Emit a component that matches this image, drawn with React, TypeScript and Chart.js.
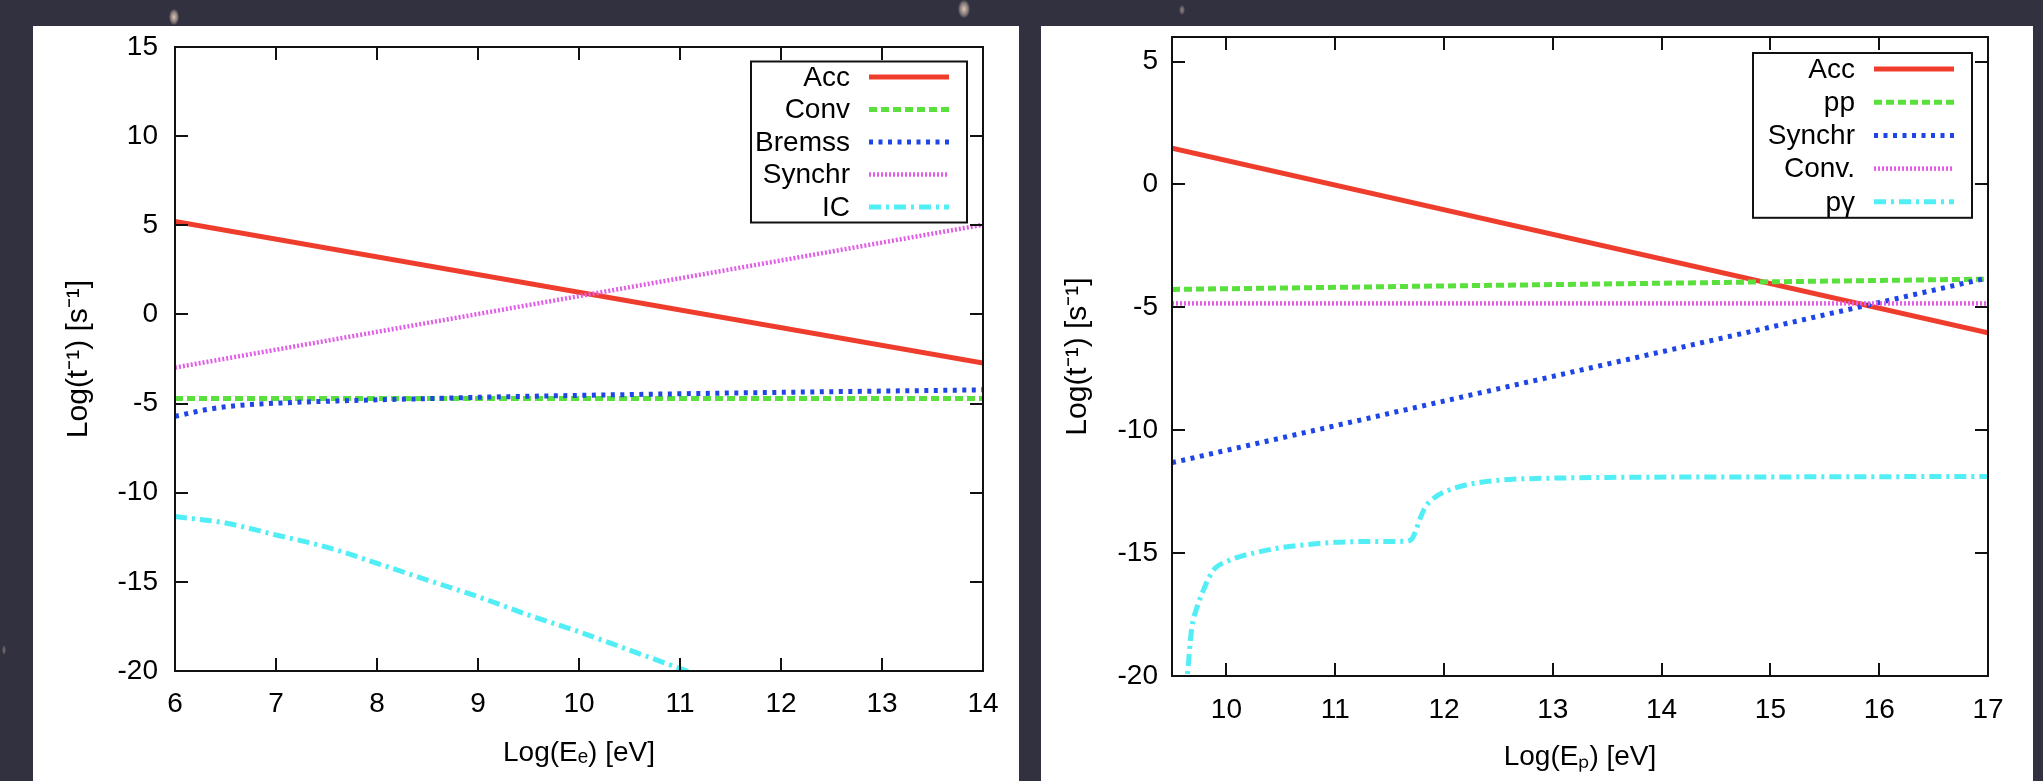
import React, { useEffect, useRef } from "react";
import { Chart, registerables } from "chart.js";

Chart.register(...registerables);

// ---------------- data : left panel (electrons) ----------------
const leftLabels = ["Acc", "Conv", "Bremss", "Synchr", "IC"];
const leftXTicks = [6, 7, 8, 9, 10, 11, 12, 13, 14];
const leftYTicks = [-20, -15, -10, -5, 0, 5, 10, 15];

const eAccX = [6, 14];
const eAccY = [5.22, -2.73];
const eConvX = [6, 14];
const eConvY = [-4.71, -4.71];
const eBremssX = [6, 6.3, 6.6, 7, 7.5, 8, 8.5, 9, 9.5, 10, 11, 12, 13, 14];
const eBremssY = [-5.72, -5.35, -5.12, -4.98, -4.87, -4.79, -4.72, -4.65, -4.59, -4.54, -4.45, -4.37, -4.3, -4.23];
const eSynchrX = [6, 14];
const eSynchrY = [-2.98, 5.03];
const eIcX = [6, 6.5, 7, 7.5, 8, 8.5, 9, 9.5, 10, 10.5, 11, 11.3];
const eIcY = [-11.34, -11.7, -12.37, -13.05, -13.96, -14.9, -15.83, -16.86, -17.8, -18.83, -19.86, -20.5];

// ---------------- data : right panel (protons) ----------------
const rightLabels = ["Acc", "pp", "Synchr", "Conv.", "pγ"];
const rightXTicks = [10, 11, 12, 13, 14, 15, 16, 17];
const rightYTicks = [-20, -15, -10, -5, 0, 5];

const pAccX = [9.5, 17];
const pAccY = [1.48, -6.04];
const pPpX = [9.5, 17];
const pPpY = [-4.27, -3.85];
const pSynchrX = [9.5, 17];
const pSynchrY = [-11.32, -3.8];
const pConvX = [9.5, 17];
const pConvY = [-4.84, -4.84];
const pPgX = [9.62, 9.64, 9.68, 9.73, 9.78, 9.84, 9.9, 10.0, 10.11, 10.3, 10.48, 10.75, 11.0, 11.3, 11.64, 11.7, 11.74, 11.78, 11.82, 11.87, 11.92, 12.0, 12.1, 12.25, 12.41, 12.6, 12.79, 13.5, 15, 17];
const pPgY = [-20.6, -20, -18.1, -17.2, -16.6, -16.0, -15.6, -15.35, -15.16, -14.95, -14.79, -14.65, -14.56, -14.53, -14.52, -14.45, -14.1, -13.6, -13.2, -12.9, -12.72, -12.52, -12.35, -12.18, -12.08, -12.0, -11.97, -11.92, -11.9, -11.88];

// ---------------- styles ----------------
const FONT = "'Liberation Sans', Arial, Helvetica, sans-serif";
const RED = "#ef3d2d";
const GREEN = "#5ae03c";
const BLUE = "#1f45e6";
const MAGENTA = "#e25ee8";
const CYAN = "#52eef6";

const styleAcc = { borderColor: RED, borderWidth: 5, borderDash: [] as number[] };
const styleDash = { borderColor: GREEN, borderWidth: 5, borderDash: [8, 4] };
const styleDot = { borderColor: BLUE, borderWidth: 5, borderDash: [4, 5.5] };
const styleFine = { borderColor: MAGENTA, borderWidth: 4.5, borderDash: [2, 2] };
const styleDashDot = { borderColor: CYAN, borderWidth: 5, borderDash: [12, 5, 3, 5] };

function pts(xs: number[], ys: number[]) {
  return xs.map((x, i) => ({ x, y: ys[i] }));
}

function ds(label: string, xs: number[], ys: number[], style: any, idx: number, curve = false) {
  return {
    label,
    data: pts(xs, ys),
    showLine: true,
    pointRadius: 0,
    pointHoverRadius: 0,
    fill: false,
    borderCapStyle: "butt" as const,
    cubicInterpolationMode: curve ? ("monotone" as const) : ("default" as const),
    order: -idx,
    ...style,
  };
}

const gnuFrame = {
  id: "gnuFrame",
  afterDatasetsDraw(chart: any) {
    const { ctx, chartArea: a, scales } = chart;
    const L = 13;
    ctx.save();
    ctx.strokeStyle = "#111";
    ctx.lineWidth = 2;
    ctx.beginPath();
    for (const t of scales.x.ticks) {
      const px = Math.round(scales.x.getPixelForValue(t.value));
      ctx.moveTo(px, a.bottom);
      ctx.lineTo(px, a.bottom - L);
      ctx.moveTo(px, a.top);
      ctx.lineTo(px, a.top + L);
    }
    for (const t of scales.y.ticks) {
      const py = Math.round(scales.y.getPixelForValue(t.value));
      ctx.moveTo(a.left, py);
      ctx.lineTo(a.left + L, py);
      ctx.moveTo(a.right, py);
      ctx.lineTo(a.right - L, py);
    }
    ctx.stroke();
    ctx.strokeRect(a.left, a.top, a.right - a.left, a.bottom - a.top);
    ctx.restore();
  },
};

const gnuLegend = {
  id: "gnuLegend",
  afterDraw(chart: any, _args: any, opts: any) {
    const { ctx, chartArea: a } = chart;
    const sets = chart.data.datasets;
    const boxRight = a.right - opts.right;
    const boxTop = a.top + opts.top;
    const boxLeft = boxRight - opts.width;
    const boxBottom = boxTop + 2 * opts.pad + (sets.length - 1) * opts.row;
    ctx.save();
    ctx.strokeStyle = "#111";
    ctx.lineWidth = 2;
    ctx.strokeRect(boxLeft, boxTop, boxRight - boxLeft, boxBottom - boxTop);
    ctx.font = `${opts.fontSize}px ${FONT}`;
    ctx.textAlign = "right";
    ctx.textBaseline = "middle";
    sets.forEach((d: any, i: number) => {
      const y = boxTop + opts.pad + i * opts.row;
      ctx.fillStyle = "#000";
      ctx.fillText(d.label, boxRight - 117, y + 1);
      ctx.strokeStyle = d.borderColor;
      ctx.lineWidth = d.borderWidth;
      ctx.setLineDash(d.borderDash || []);
      ctx.beginPath();
      ctx.moveTo(boxRight - 98, y);
      ctx.lineTo(boxRight - 18, y);
      ctx.stroke();
      ctx.setLineDash([]);
    });
    ctx.restore();
  },
};

function makeOptions(cfg: any) {
  const font = { family: FONT, size: 28 };
  return {
    animation: false as const,
    responsive: false,
    events: [] as any[],
    layout: { padding: { left: 0, top: cfg.padTop, right: cfg.padRight, bottom: 0 } },
    plugins: {
      legend: { display: false },
      tooltip: { enabled: false },
      gnuLegend: cfg.legend,
    },
    scales: {
      x: {
        type: "linear" as const,
        min: cfg.xMin,
        max: cfg.xMax,
        afterBuildTicks: (s: any) => {
          s.ticks = cfg.xTicks.map((v: number) => ({ value: v }));
        },
        afterFit: (s: any) => {
          s.height = cfg.xAxisH;
          s.paddingLeft = 0;
          s.paddingRight = 0;
          s.paddingTop = 0;
          s.paddingBottom = 0;
        },
        grid: { display: false, drawTicks: false },
        border: { display: false },
        ticks: { color: "#000", font, padding: cfg.xTickPad, maxRotation: 0, autoSkip: false },
        title: { display: true, text: cfg.xTitle, color: "#000", font, padding: { top: 0, bottom: cfg.xTitlePad } },
      },
      y: {
        type: "linear" as const,
        min: cfg.yMin,
        max: cfg.yMax,
        afterBuildTicks: (s: any) => {
          s.ticks = cfg.yTicks.map((v: number) => ({ value: v }));
        },
        afterFit: (s: any) => {
          s.width = cfg.yAxisW;
          s.paddingLeft = 0;
          s.paddingRight = 0;
          s.paddingTop = 0;
          s.paddingBottom = 0;
        },
        grid: { display: false, drawTicks: false },
        border: { display: false },
        ticks: { color: "#000", font, padding: cfg.yTickPad, autoSkip: false },
        title: { display: true, text: "Log(t⁻¹) [s⁻¹]", color: "#000", font: { family: FONT, size: 30 }, padding: { top: cfg.yTitlePad, bottom: 0 } },
      },
    },
  };
}

export default function App() {
  const leftRef = useRef<HTMLCanvasElement | null>(null);
  const rightRef = useRef<HTMLCanvasElement | null>(null);

  useEffect(() => {
    const left = new Chart(leftRef.current as HTMLCanvasElement, {
      type: "scatter",
      data: {
        datasets: [
          ds(leftLabels[0], eAccX, eAccY, styleAcc, 0),
          ds(leftLabels[1], eConvX, eConvY, styleDash, 1),
          ds(leftLabels[2], eBremssX, eBremssY, styleDot, 2, true),
          ds(leftLabels[3], eSynchrX, eSynchrY, styleFine, 3),
          ds(leftLabels[4], eIcX, eIcY, styleDashDot, 4, true),
        ],
      },
      options: makeOptions({
        padTop: 21,
        padRight: 36,
        xMin: 6,
        xMax: 14,
        yMin: -20,
        yMax: 15,
        xTicks: leftXTicks,
        yTicks: leftYTicks,
        xAxisH: 110,
        yAxisW: 142,
        xTickPad: 16,
        yTickPad: 17,
        xTitle: "Log(Eₑ) [eV]",
        xTitlePad: 11,
        yTitlePad: 28,
        legend: { right: 16, top: 14.5, width: 216, pad: 15.5, row: 32.5, fontSize: 28 },
      }) as any,
      plugins: [gnuFrame, gnuLegend],
    });

    const right = new Chart(rightRef.current as HTMLCanvasElement, {
      type: "scatter",
      data: {
        datasets: [
          ds(rightLabels[0], pAccX, pAccY, styleAcc, 0),
          ds(rightLabels[1], pPpX, pPpY, styleDash, 1),
          ds(rightLabels[2], pSynchrX, pSynchrY, styleDot, 2),
          ds(rightLabels[3], pConvX, pConvY, styleFine, 3),
          ds(rightLabels[4], pPgX, pPgY, styleDashDot, 4, true),
        ],
      },
      options: makeOptions({
        padTop: 11,
        padRight: 45,
        xMin: 9.5,
        xMax: 17,
        yMin: -20,
        yMax: 6,
        xTicks: rightXTicks,
        yTicks: rightYTicks,
        xAxisH: 105,
        yAxisW: 131,
        xTickPad: 17,
        yTickPad: 14,
        xTitle: "Log(Eₚ) [eV]",
        xTitlePad: 7,
        yTitlePad: 19,
        legend: { right: 16, top: 16, width: 219, pad: 16, row: 33.2, fontSize: 28 },
      }) as any,
      plugins: [gnuFrame, gnuLegend],
    });

    return () => {
      left.destroy();
      right.destroy();
    };
  }, []);

  const star = (x: number, y: number, w: number, h: number, o: number) => (
    <div
      style={{
        position: "absolute",
        left: x - w / 2,
        top: y - h / 2,
        width: w,
        height: h,
        borderRadius: "50%",
        background: `radial-gradient(ellipse at center, rgba(240,215,195,${o}) 0%, rgba(240,215,195,${o * 0.5}) 45%, rgba(240,215,195,0) 75%)`,
      }}
    />
  );

  return (
    <div
      style={{
        position: "absolute",
        left: 0,
        top: 0,
        width: 2043,
        height: 781,
        background: "#32313f",
        overflow: "hidden",
      }}
    >
      {star(174, 17, 10, 16, 0.9)}
      {star(964, 9, 12, 18, 0.9)}
      {star(1182, 10, 6, 10, 0.5)}
      {star(4, 650, 4, 10, 0.4)}
      <div style={{ position: "absolute", left: 33, top: 26, width: 986, height: 755, background: "#fff" }}>
        <canvas ref={leftRef} width={986} height={755} style={{ display: "block" }} />
      </div>
      <div style={{ position: "absolute", left: 1041, top: 26, width: 992, height: 755, background: "#fff" }}>
        <canvas ref={rightRef} width={992} height={755} style={{ display: "block" }} />
      </div>
    </div>
  );
}
